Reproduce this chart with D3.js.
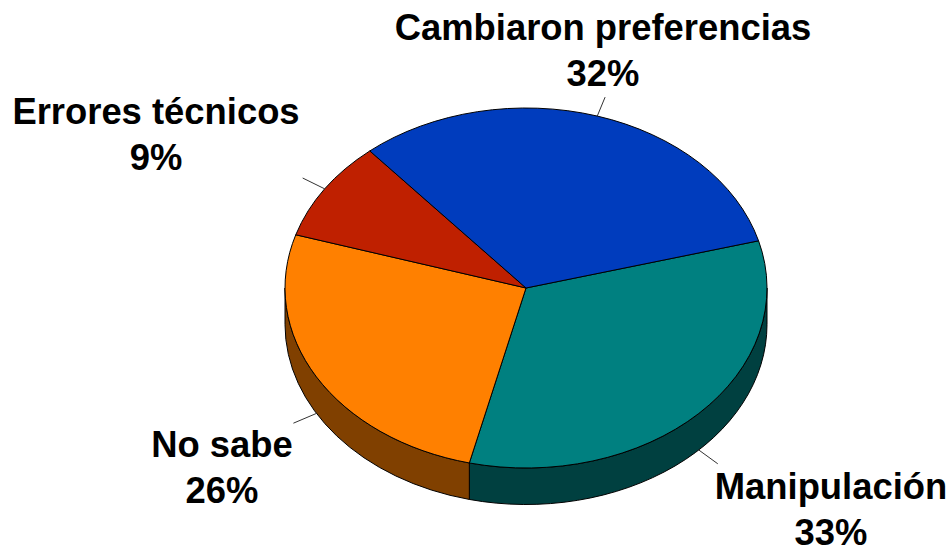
<!DOCTYPE html>
<html><head><meta charset="utf-8">
<style>html,body{margin:0;padding:0;background:#fff}svg{display:block}</style>
<script src="https://cdn.jsdelivr.net/npm/d3@7"></script></head>
<body><svg id="c" width="947" height="547"></svg>
<script>
const categories = ["Manipulación","No sabe","Errores técnicos","Cambiaron preferencias"];
const values = [33,26,9,32];
const topColors = ["#008080","#FF8000","#BF2000","#003CBD"];
const wallColors = ["#004040","#804000","#601000","#001E5E"];
const labelCenters = [[831,499],[222,457],[156,124],[603,40]];

const W=947,H=547,cx=526,cy=288,rx=241,ry=180,depth=36.5;
const svg=d3.select("#c").attr("viewBox",[0,0,W,H]);
const rad=d=>d*Math.PI/180;
const startDeg=74.8;
const pie=d3.pie().sort(null).startAngle(rad(startDeg)).endAngle(rad(startDeg+360));
const arcs=pie(values).map((d,i)=>({...d,i}));
const pt=(a,r=1,dy=0)=>[cx+rx*r*Math.sin(a),cy-ry*r*Math.cos(a)+dy];
const lo=rad(90),hi=rad(270);

arcs.forEach(d=>{
  [0,2*Math.PI].forEach(off=>{
    const a0=Math.max(d.startAngle-off,lo),a1=Math.min(d.endAngle-off,hi);
    if(a1<=a0)return;
    const [x0,y0]=pt(a0),[x1,y1]=pt(a1),[x2,y2]=pt(a1,1,depth),[x3,y3]=pt(a0,1,depth);
    svg.append("path")
      .attr("d",`M${x0},${y0}A${rx},${ry} 0 0 1 ${x1},${y1}L${x2},${y2}A${rx},${ry} 0 0 0 ${x3},${y3}Z`)
      .attr("fill",wallColors[d.i]).attr("stroke","#000").attr("stroke-width",1);
  });
});

const arc=d3.arc().innerRadius(0).outerRadius(rx);
const g=svg.append("g").attr("transform",`translate(${cx},${cy}) scale(1,${ry/rx})`);
g.selectAll("path").data(arcs).join("path")
  .attr("d",arc).attr("fill",d=>topColors[d.i])
  .attr("stroke","#000").attr("stroke-width",1).attr("stroke-linejoin","round")
  .attr("vector-effect","non-scaling-stroke");

arcs.forEach(d=>{
  const m=(d.startAngle+d.endAngle)/2;
  const norm=m%(2*Math.PI);
  const off=(norm>lo&&norm<hi)?depth:0;
  const a=pt(m,1,off),b=pt(m,1.11,off);
  svg.append("line").attr("x1",a[0]).attr("y1",a[1]).attr("x2",b[0]).attr("y2",b[1])
    .attr("stroke","#333").attr("stroke-width",1);
});

arcs.forEach(d=>{
  const [x,y]=labelCenters[d.i];
  const t=svg.append("text").attr("text-anchor","middle")
    .attr("font-family","'Liberation Sans',Arial,sans-serif").attr("font-weight","bold")
    .attr("font-size",36.4).attr("fill","#000");
  t.append("tspan").attr("x",x).attr("y",y).text(categories[d.i]);
  t.append("tspan").attr("x",x).attr("y",y+46).text(values[d.i]+"%");
});
</script></body></html>
